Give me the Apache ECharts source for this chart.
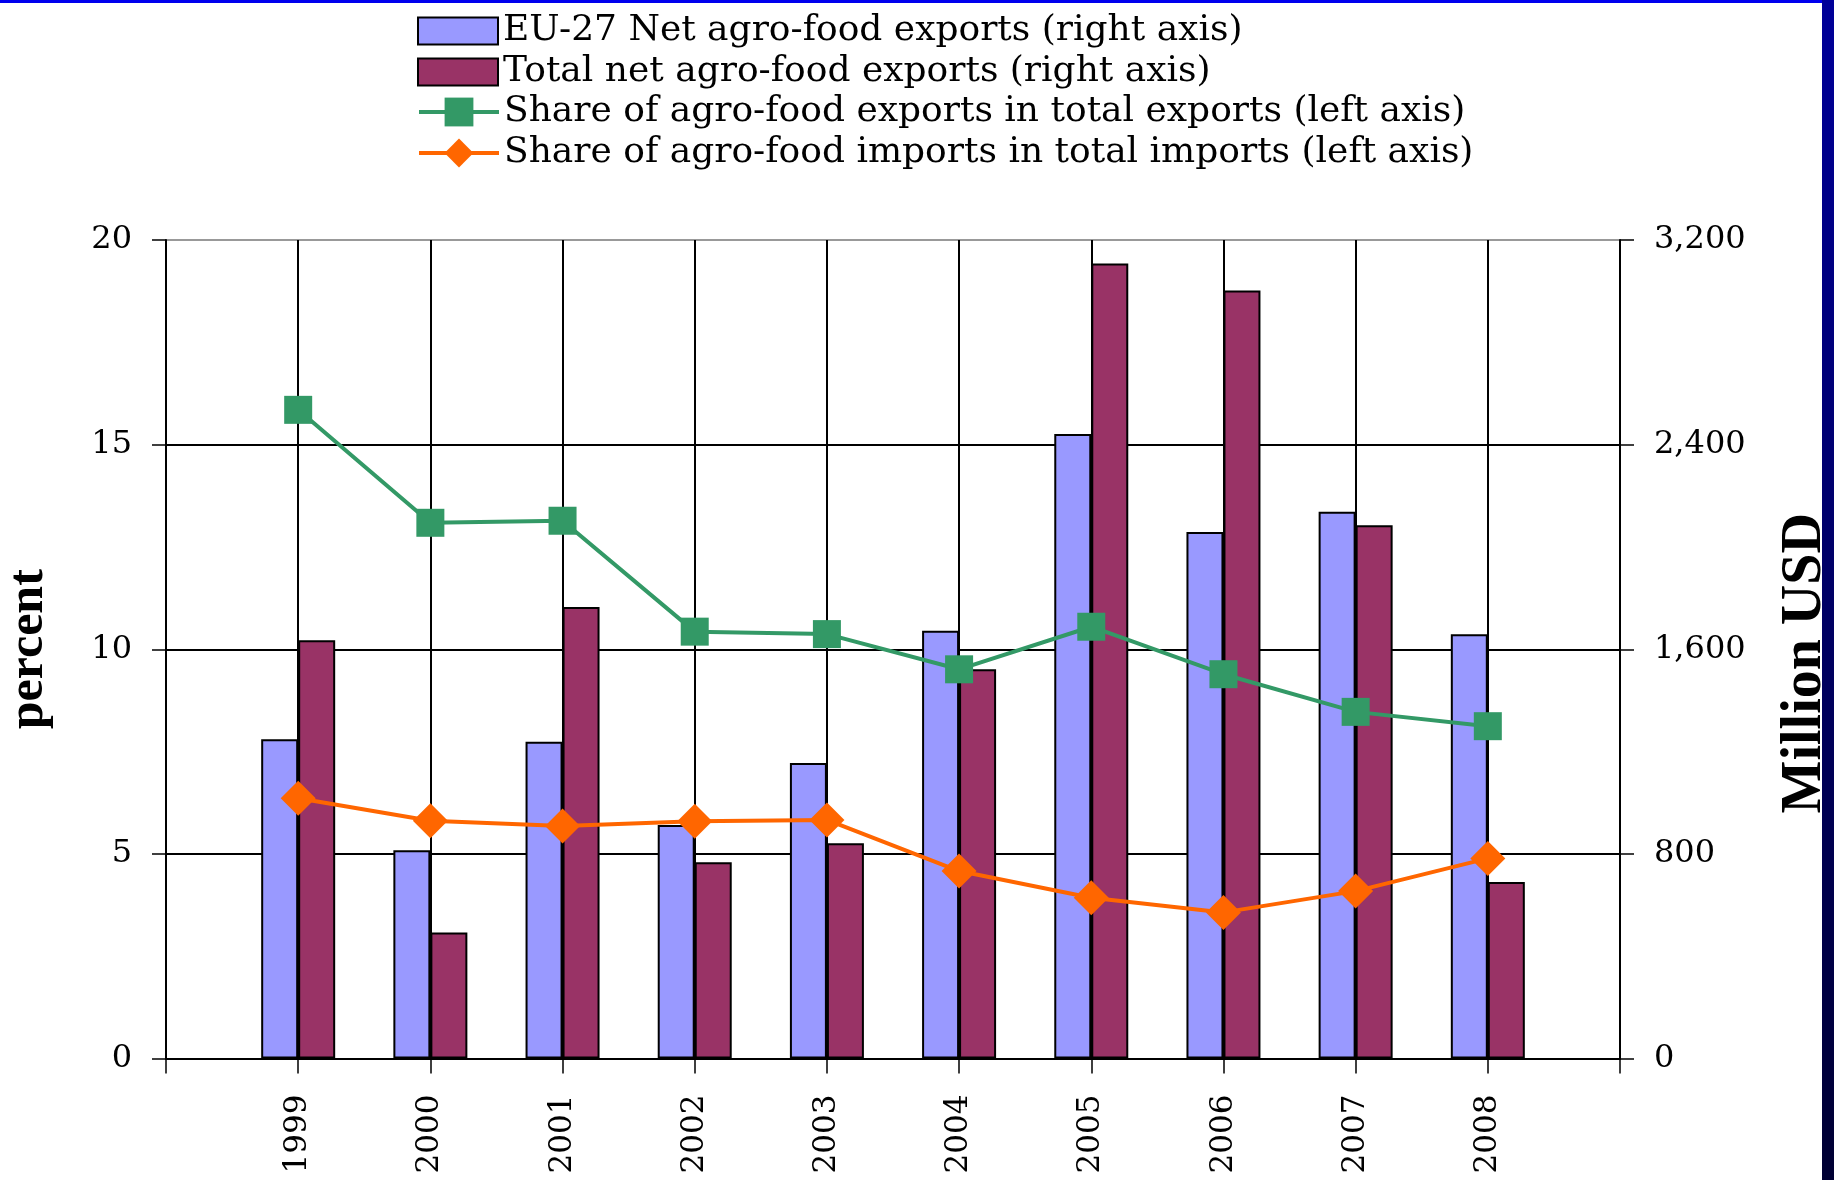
<!DOCTYPE html>
<html>
<head>
<meta charset="utf-8">
<script src="https://cdn.jsdelivr.net/npm/echarts@6/dist/echarts.min.js"></script>
<style>
html,body{margin:0;padding:0;background:#fff;}
#c{width:1834px;height:1180px;}
</style>
</head>
<body>
<div id="c"></div>
<script>
const years = ['1999','2000','2001','2002','2003','2004','2005','2006','2007','2008'];
const euNetExports = [1248, 814, 1238, 913, 1155, 1672, 2442, 2058, 2138, 1659];
const totalNetExports = [1635, 493, 1765, 767, 842, 1522, 3108, 3003, 2085, 690];
const shareExports = [15.85, 13.09, 13.14, 10.43, 10.37, 9.51, 10.55, 9.39, 8.47, 8.12];
const shareImports = [6.36, 5.81, 5.68, 5.80, 5.83, 4.58, 3.93, 3.57, 4.09, 4.89];
const leftTicks = {min: 0, max: 20, interval: 5};
const rightTicks = {min: 0, max: 3200, interval: 800};

const pad = a => [null].concat(a, [null]);
const cats = [''].concat(years, ['']);

const serif = 'DejaVu Serif';
const legendText = {fontFamily: serif, fontSize: 36, color: '#000', lineHeight: 40};
const chart = echarts.init(document.getElementById('c'), null, {renderer: 'canvas'});
chart.setOption({
  backgroundColor: '#ffffff',
  animation: false,
  legend: [
    {
      orient: 'vertical',
      left: 412,
      top: 6,
      itemWidth: 80,
      itemHeight: 27,
      itemGap: 1,
      textStyle: legendText,
      data: [
        {name: 'EU-27 Net agro-food exports (right axis)', icon: 'rect'},
        {name: 'Total net agro-food exports (right axis)', icon: 'rect'}
      ]
    },
    {
      orient: 'vertical',
      left: 412,
      top: 87,
      itemWidth: 80,
      itemHeight: 36,
      itemGap: 1,
      textStyle: legendText,
      lineStyle: {width: 4},
      data: [
        {name: 'Share of agro-food exports in total exports (left axis)'},
        {name: 'Share of agro-food imports in total imports (left axis)'}
      ]
    }
  ],
  grid: {left: 166, right: 214, top: 240, bottom: 121.5, containLabel: false, outerBoundsMode: 'none'},
  xAxis: {
    type: 'category',
    data: cats,
    boundaryGap: false,
    axisLine: {lineStyle: {color: '#000', width: 2}},
    axisTick: {show: true, length: 15, lineStyle: {color: '#000', width: 1.5}},
    axisLabel: {rotate: 90, margin: 36, fontFamily: serif, fontSize: 31, color: '#000', interval: 0},
    splitLine: {show: true, lineStyle: {color: '#000', width: 2}}
  },
  yAxis: [
    {
      type: 'value',
      min: leftTicks.min, max: leftTicks.max, interval: leftTicks.interval,
      name: 'percent',
      nameLocation: 'middle',
      nameGap: 112,
      nameTextStyle: {fontFamily: 'Liberation Serif', fontWeight: 'bold', fontSize: 50, color: '#000'},
      axisLine: {show: true, lineStyle: {color: '#000', width: 2}},
      axisTick: {show: true, length: 14, lineStyle: {color: '#000', width: 1.5}},
      axisLabel: {margin: 34, fontFamily: serif, fontSize: 32, color: '#000'},
      splitLine: {show: true, lineStyle: {color: ['#000', '#000', '#000', '#000', '#999'], width: 2}}
    },
    {
      type: 'value',
      min: rightTicks.min, max: rightTicks.max, interval: rightTicks.interval,
      name: 'Million USD',
      nameLocation: 'middle',
      nameGap: 158,
      nameTextStyle: {fontFamily: 'Liberation Serif', fontWeight: 'bold', fontSize: 56, color: '#000',
        padding: [0, 28, 0, 0]},
      position: 'right',
      axisLine: {show: true, lineStyle: {color: '#000', width: 2}},
      axisTick: {show: true, length: 14, lineStyle: {color: '#000', width: 1.5}},
      axisLabel: {margin: 34, fontFamily: serif, fontSize: 32, color: '#000',
        formatter: v => v.toLocaleString('en-US')},
      splitLine: {show: false}
    }
  ],
  series: [
    {
      name: 'EU-27 Net agro-food exports (right axis)',
      type: 'bar',
      yAxisIndex: 1,
      data: pad(euNetExports),
      barWidth: 37,
      barGap: '0%',
      itemStyle: {color: '#9999FF', borderColor: '#000', borderWidth: 2}
    },
    {
      name: 'Total net agro-food exports (right axis)',
      type: 'bar',
      yAxisIndex: 1,
      data: pad(totalNetExports),
      barWidth: 37,
      barGap: '0%',
      itemStyle: {color: '#993366', borderColor: '#000', borderWidth: 2}
    },
    {
      name: 'Share of agro-food exports in total exports (left axis)',
      type: 'line',
      yAxisIndex: 0,
      data: pad(shareExports),
      symbol: 'rect',
      symbolSize: 28,
      lineStyle: {color: '#339966', width: 4},
      itemStyle: {color: '#339966'}
    },
    {
      name: 'Share of agro-food imports in total imports (left axis)',
      type: 'line',
      yAxisIndex: 0,
      data: pad(shareImports),
      symbol: 'diamond',
      symbolSize: 35,
      lineStyle: {color: '#FF6600', width: 4},
      itemStyle: {color: '#FF6600'}
    }
  ],
  graphic: [
    {type: 'rect', left: 0, top: 0, shape: {width: 1822, height: 3}, style: {fill: '#0000EE'}, silent: true},
    {type: 'rect', left: 1822, top: 0, shape: {width: 12, height: 1180},
      style: {fill: new echarts.graphic.LinearGradient(0, 0, 0, 1, [
        {offset: 0, color: '#000099'}, {offset: 1, color: '#000033'}])}, silent: true}
  ]
});
</script>
</body>
</html>
